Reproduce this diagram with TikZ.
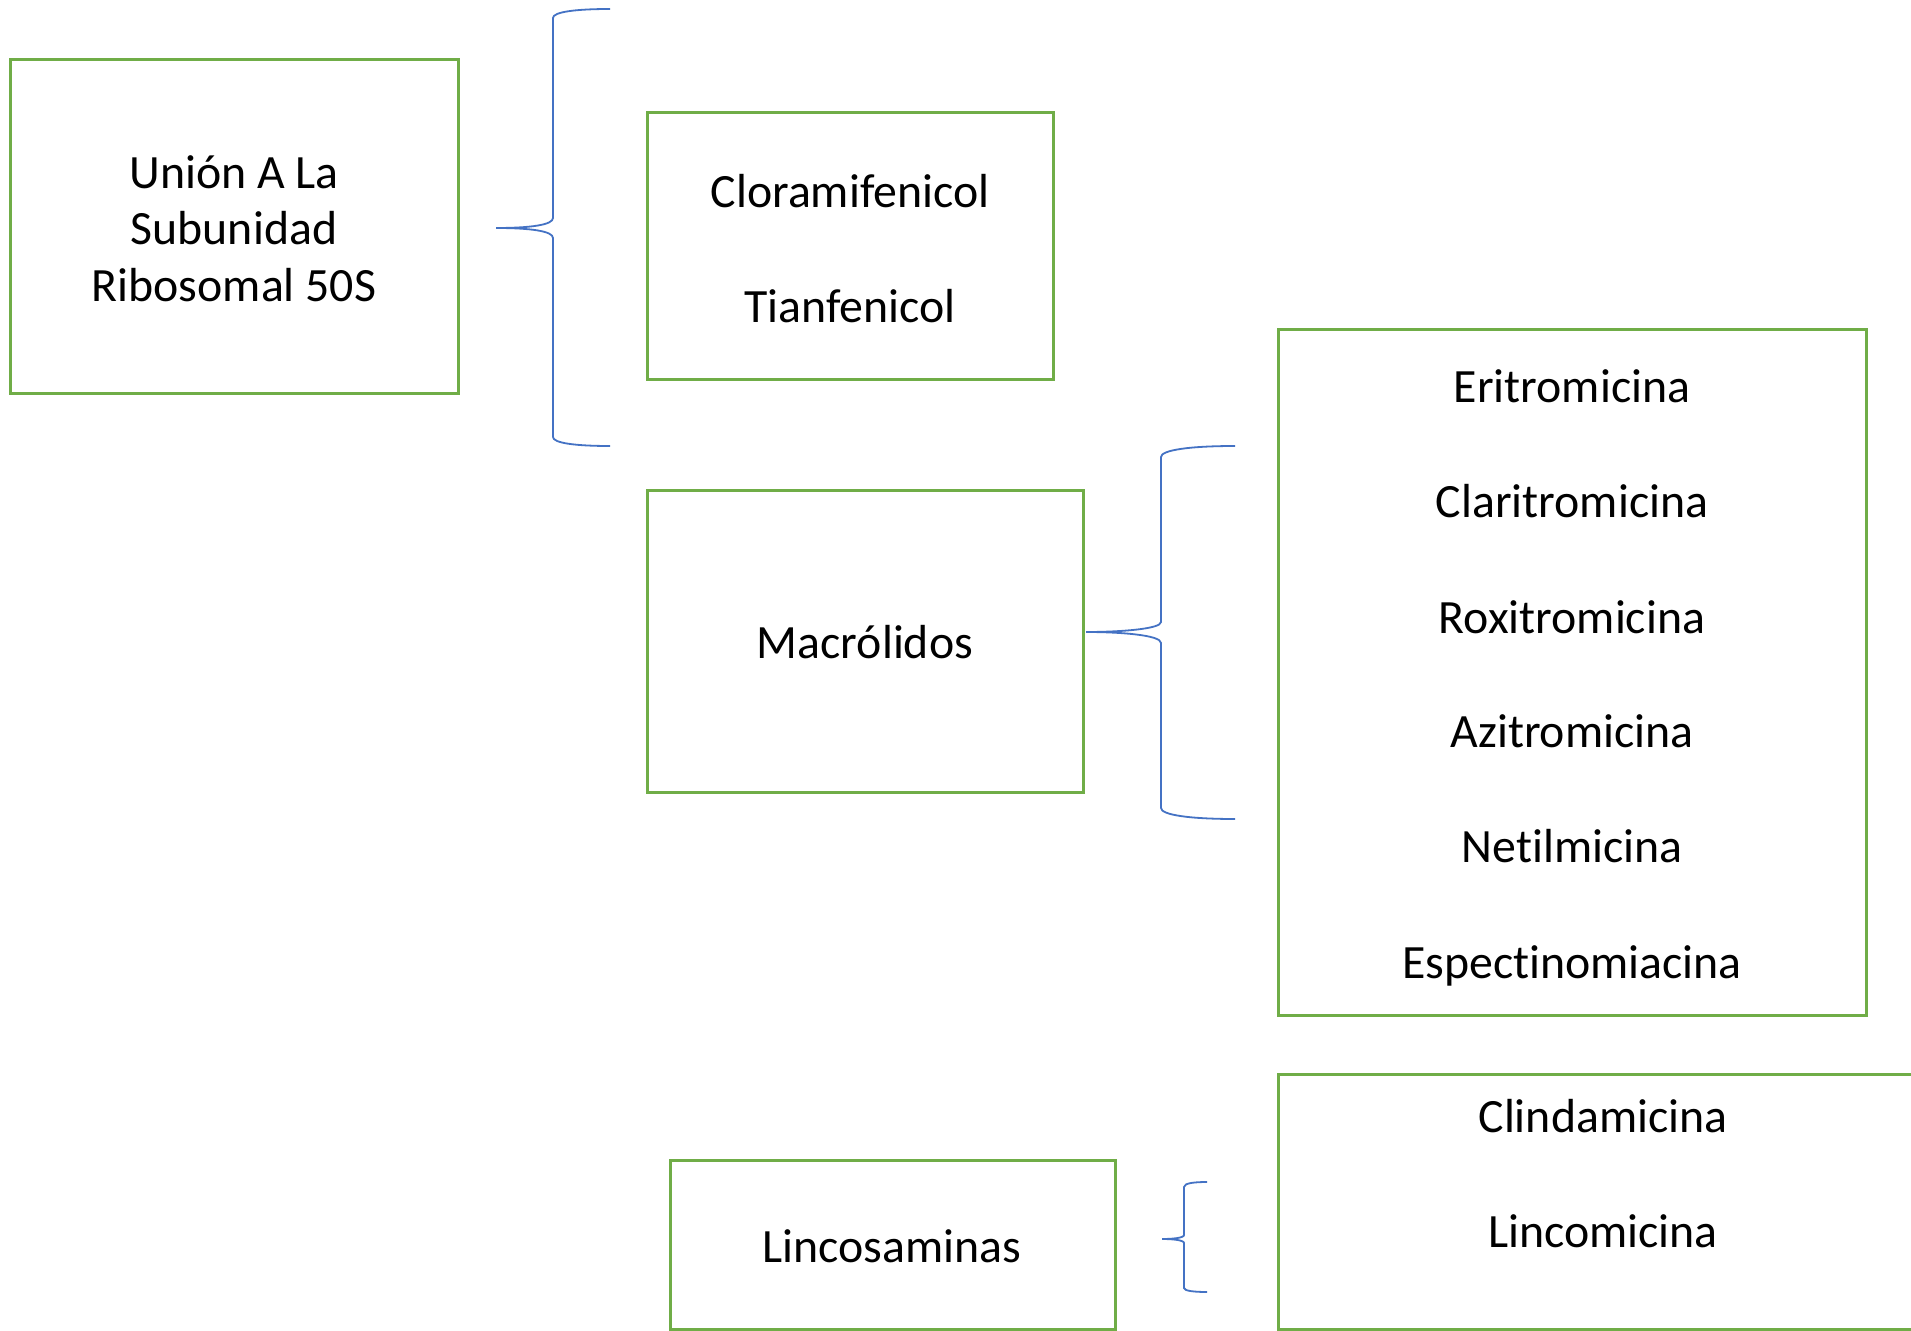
\documentclass[tikz,border=0pt]{standalone}
\usepackage{fontspec}
\setmainfont[Ligatures=NoCommon]{Carlito}
\definecolor{boxgreen}{HTML}{70AD47}
\definecolor{braceblue}{HTML}{4472C4}
\begin{document}
\begin{tikzpicture}[x=0.5pt,y=-0.5pt,
  box/.style={draw=boxgreen, line width=1.5pt, rectangle, inner sep=0pt},
  lbl/.style={font=\fontsize{23.9}{28.5}\selectfont, inner sep=0pt, text height=0.65em, text depth=0pt, anchor=center},
  brace/.style={draw=braceblue, line width=0.9pt}]
\useasboundingbox (0,0) rectangle (1911,1331);
\clip (0,0) rectangle (1911,1331);
\fill[white] (0,0) rectangle (1911,1331);

% boxes
\node[box, minimum width=224pt, minimum height=167pt] (union) at (234,227) {};
\node[box, minimum width=203pt, minimum height=133.5pt] (cloram) at (850,246.5) {};
\node[box, minimum width=218pt, minimum height=150.5pt] (macro) at (865,641.5) {};
\node[box, minimum width=294pt, minimum height=342.5pt] (macrolist) at (1572,672.5) {};
\node[box, minimum width=222.5pt, minimum height=84.5pt] (linco) at (892.5,1244.5) {};
\node[box, minimum width=325pt, minimum height=127.5pt] (lincolist) at (1603,1201.5) {};

% texts
\node[lbl] (u1) at (234,182) {Unión A La};
\node[lbl] (u2) at (234,238) {Subunidad};
\node[lbl] (u3) at (234,295) {Ribosomal 50S};

\node[lbl] (c1) at (850,201) {Cloramifenicol};
\node[lbl] (c2) at (850,316) {Tianfenicol};

\node[lbl] (m0) at (865,652) {Macrólidos};

\node[lbl] (m1) at (1572,396) {Eritromicina};
\node[lbl] (m2) at (1572,511) {Claritromicina};
\node[lbl] (m3) at (1572,627) {Roxitromicina};
\node[lbl] (m4) at (1572,741) {Azitromicina};
\node[lbl] (m5) at (1572,856) {Netilmicina};
\node[lbl] (m6) at (1572,972) {Espectinomiacina};

\node[lbl] (l0) at (892,1256) {Lincosaminas};
\node[lbl] (l1) at (1603,1126) {Clindamicina};
\node[lbl] (l2) at (1603,1241) {Lincomicina};

% braces
\coordinate (b1tip) at (496,228);
\draw[brace] (610,9) .. controls (575,9) and (553,12) .. (553,18) -- (553,218)
  .. controls (553,225) and (530,228) .. (b1tip)
  .. controls (530,228) and (553,231) .. (553,238) -- (553,437)
  .. controls (553,443) and (575,446) .. (610,446);

\coordinate (b2tip) at (1086,632);
\draw[brace] (1235,446) .. controls (1190,446) and (1161,450) .. (1161,457) -- (1161,622)
  .. controls (1161,629) and (1120,632) .. (b2tip)
  .. controls (1120,632) and (1161,635) .. (1161,643) -- (1161,808)
  .. controls (1161,815) and (1190,819) .. (1235,819);

\coordinate (b3tip) at (1162,1239);
\draw[brace] (1207,1182) .. controls (1195,1182) and (1184,1183) .. (1184,1187) -- (1184,1235)
  .. controls (1184,1238) and (1172,1239) .. (b3tip)
  .. controls (1172,1239) and (1184,1240) .. (1184,1243) -- (1184,1288)
  .. controls (1184,1291) and (1195,1292) .. (1207,1292);
\end{tikzpicture}
\end{document}
